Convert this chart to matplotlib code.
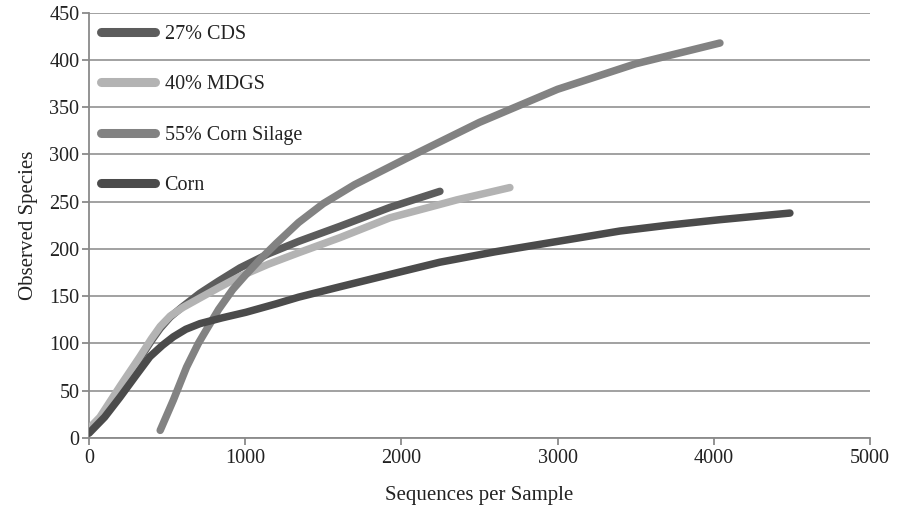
import matplotlib.pyplot as plt

plt.rcParams['font.family'] = ['Liberation Serif', 'DejaVu Serif']

# values
cds_x = [0, 70, 200, 326, 400, 456, 520, 600, 709, 830, 967, 1150, 1342, 1607, 1927, 2247]
cds_y = [8, 20, 53, 84, 103, 116, 128, 139, 153, 166, 180, 195, 208, 224, 244, 261]

mdgs_x = [0, 70, 200, 326, 400, 456, 520, 600, 709, 830, 967, 1150, 1342, 1607, 1927, 2356, 2695]
mdgs_y = [10, 22, 55, 86, 105, 118, 129, 138, 148, 159, 171, 184, 196, 212, 233, 252, 265]

silage_x = [456, 540, 625, 700, 750, 830, 920, 1000, 1090, 1200, 1342, 1500, 1700,
            2034, 2500, 3000, 3500, 4040]
silage_y = [8, 40, 75, 100, 114, 136, 157, 172, 188, 206, 228, 248, 268,
            296, 334, 369, 396, 418]

corn_x = [0, 100, 198, 300, 390, 470, 540, 620, 711, 850, 1005, 1200, 1342, 1607,
          2000, 2247, 2600, 3000, 3400, 3700, 4040, 4488]
corn_y = [5, 22, 43, 66, 86, 98, 107, 115, 121, 127, 133, 142, 149, 160,
          176, 186, 197, 208, 219, 225, 231, 238]

labels = ['27% CDS', '40% MDGS', '55% Corn Silage', 'Corn']
colors = ['#5c5c5c', '#b3b3b3', '#828282', '#4b4b4b']

fig = plt.figure(figsize=(9.08, 5.11), dpi=100)
ax = fig.add_axes([0.098, 0.143, 0.860, 0.832])

series = [(cds_x, cds_y), (mdgs_x, mdgs_y), (silage_x, silage_y), (corn_x, corn_y)]
for (xs, ys), lab, c in zip(series, labels, colors):
    ax.plot(xs, ys, color=c, lw=5.4, solid_capstyle='round',
            solid_joinstyle='round', label=lab, zorder=3)

ax.set_xlim(0, 5000)
ax.set_ylim(0, 450)
ax.set_xticks(range(0, 5001, 1000))
ax.set_yticks(range(0, 451, 50))
ax.yaxis.grid(True, color='#9a9a9a', lw=1.3)
ax.set_axisbelow(True)

for s in ['top', 'right']:
    ax.spines[s].set_visible(False)
for s in ['left', 'bottom']:
    ax.spines[s].set_color('#8a8a8a')
    ax.spines[s].set_linewidth(1.3)
ax.tick_params(axis='both', colors='#8a8a8a', labelcolor='#222222',
               labelsize=14.5, width=1.3, length=5)
ax.tick_params(axis='y', pad=2)
ax.tick_params(axis='x', pad=3)

ax.set_xlabel('Sequences per Sample', fontsize=15, color='#222222', labelpad=13)
ax.set_ylabel('Observed Species', fontsize=15, color='#222222', labelpad=8)

leg = ax.legend(loc='upper left', bbox_to_anchor=(0.0, 1.0), frameon=False,
                fontsize=14.5, handlelength=2.7, handletextpad=0.45,
                labelspacing=1.55, borderaxespad=0.2)
for t in leg.get_texts():
    t.set_color('#222222')
for h in leg.get_lines():
    h.set_linewidth(6.5)

fig.savefig('out.png', dpi=100)
